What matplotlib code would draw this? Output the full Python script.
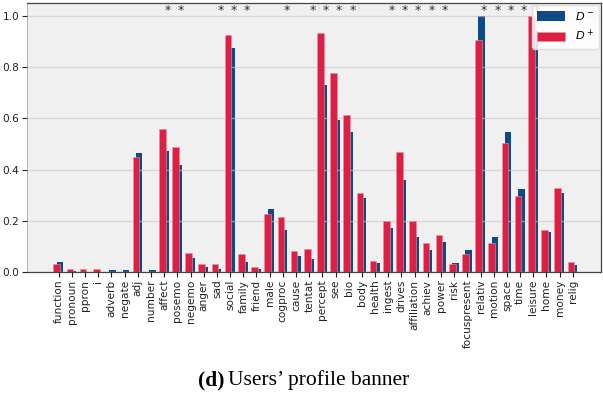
import matplotlib
matplotlib.use("Agg")
import matplotlib.pyplot as plt
import numpy as np

categories = ["function", "pronoun", "ppron", "i", "adverb", "negate", "adj", "number",
              "affect", "posemo", "negemo", "anger", "sad", "social", "family", "friend",
              "male", "cogproc", "cause", "tentat", "percept", "see", "bio", "body",
              "health", "ingest", "drives", "affiliation", "achiev", "power", "risk",
              "focuspresent", "relativ", "motion", "space", "time", "leisure", "home",
              "money", "relig"]

d_minus = [0.040, 0.004, 0.000, 0.000, 0.008, 0.008, 0.466, 0.008,
           0.473, 0.418, 0.053, 0.021, 0.012, 0.876, 0.038, 0.010,
           0.246, 0.164, 0.062, 0.051, 0.730, 0.595, 0.546, 0.290,
           0.036, 0.171, 0.359, 0.135, 0.085, 0.117, 0.035,
           0.086, 1.000, 0.137, 0.548, 0.323, 0.941, 0.155,
           0.307, 0.026]

d_plus = [0.032, 0.012, 0.012, 0.012, 0.000, 0.000, 0.447, 0.000,
          0.557, 0.486, 0.073, 0.030, 0.031, 0.924, 0.070, 0.018,
          0.227, 0.215, 0.082, 0.090, 0.931, 0.777, 0.612, 0.309,
          0.043, 0.199, 0.467, 0.199, 0.113, 0.143, 0.030,
          0.072, 0.906, 0.112, 0.503, 0.297, 1.000, 0.164,
          0.327, 0.040]

significant = ["affect", "posemo", "sad", "social", "family", "cogproc", "tentat",
               "percept", "see", "bio", "ingest", "drives", "affiliation", "achiev",
               "power", "relativ", "motion", "space", "time", "leisure"]

blue = "#0f4a86"
red = "#dc1f45"

fig = plt.figure(figsize=(6.03, 3.94), dpi=100)
ax = fig.add_axes([0.045, 0.3096, 0.952, 0.6828])
ax.set_facecolor("#f0f0f0")

x = np.arange(len(categories))
w = 0.5
ax.bar(x + 0.09, d_minus, width=w, color=blue, label=r"$D^-$", zorder=2)
ax.bar(x - 0.15, d_plus, width=w, color=red, label=r"$D^+$", zorder=3,
       edgecolor="#ee8fa0", linewidth=0.4)

for name in significant:
    i = categories.index(name)
    ax.text(i + 0.27, 0.995, "*", ha="center", va="bottom", fontsize=9, color="#333333")

ax.set_xlim(-2.4, 41.15)
ax.set_ylim(0, 1.05)
ax.set_yticks([0.0, 0.2, 0.4, 0.6, 0.8, 1.0])
ax.set_yticklabels(["0.0", "0.2", "0.4", "0.6", "0.8", "1.0"])
ax.set_xticks(x)
ax.set_xticklabels(categories, rotation=90)
ax.tick_params(axis="both", labelsize=7.6, length=3.5, width=0.8, colors="#222222", pad=2)
ax.yaxis.grid(True, color="#c8c8c8", alpha=0.6, linewidth=1.0, zorder=4)
ax.set_axisbelow(False)
for s in ["top", "right", "bottom"]:
    ax.spines[s].set_color("#444444")
    ax.spines[s].set_linewidth(0.9)
ax.spines["left"].set_color("#aaaaaa")
ax.spines["left"].set_linewidth(0.6)

leg = ax.legend(loc="upper right", fontsize=8.2, handlelength=2.5, handleheight=0.9,
                handletextpad=0.9, borderpad=0.45, labelspacing=0.55,
                frameon=True, fancybox=True, framealpha=0.85, borderaxespad=0.15)
leg.get_frame().set_edgecolor("#dddddd")
leg.set_zorder(10)

fig.text(0.3715, 0.022, "(d)", fontsize=15.5, family="Liberation Serif", weight="bold",
         ha="right", va="baseline")
fig.text(0.378, 0.022, "Users\u2019 profile banner", fontsize=15.5, family="Liberation Serif",
         ha="left", va="baseline")

fig.savefig("out.png", dpi=100)
